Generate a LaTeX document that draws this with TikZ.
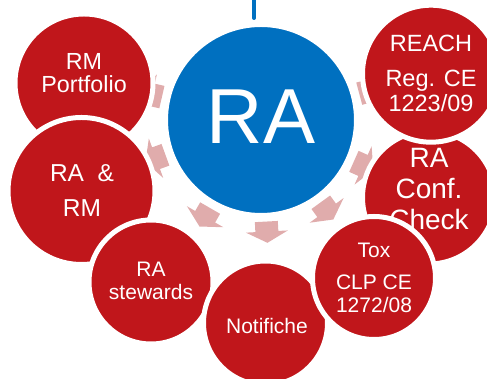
\documentclass[tikz,border=0pt]{standalone}
\usepackage{fontspec}
\setmainfont{Liberation Sans}
\definecolor{raBlue}{RGB}{0,112,192}
\definecolor{raRed}{RGB}{192,22,27}
\definecolor{arrowPink}{RGB}{224,172,172}
\tikzstyle{outerCircle}=[shape = circle, fill = raRed, draw = white, line width = 5pt, inner sep = 0pt]
\tikzstyle{centerCircle}=[shape = circle, fill = raBlue, draw = white, line width = 5pt, inner sep = 0pt]
\tikzstyle{circleText}=[text = white, align = center, inner sep = 0pt]
\tikzstyle{spokeArrow}=[fill = arrowPink, draw = none]
\newcommand{\spokeArrow}[1]{\fill[spokeArrow, shift = {(ra.center)}, rotate = #1] (101.7,-11.5) -- (111.7,-11.5) -- (111.7,-21) -- (123,0) -- (111.7,21) -- (111.7,11.5) -- (101.7,11.5) -- cycle;}

\begin{document}
\begin{tikzpicture}[x = 1pt, y = 1pt]
\useasboundingbox (0,0) rectangle (487,379);
\tikzstyle{feedLine}=[draw = raBlue, line width = 4pt, line cap = round]
\coordinate (feedTop) at (254,390);
\coordinate (feedEnd) at (254,361);
\draw[feedLine] (feedTop) -- (feedEnd);
\node[centerCircle, minimum size = 191pt] (ra) at (261,259) {};
\node[circleText, font = \fontsize{78}{80}\selectfont] (raText) at ([yshift = 3pt]ra.center) {RA};
% arrows under the outer circles
\spokeArrow{167}
\spokeArrow{200}
\spokeArrow{240}
\spokeArrow{273}
\spokeArrow{306}
\spokeArrow{336}
\spokeArrow{15}
% outer circles
\node[outerCircle, minimum size = 133pt] (conf) at (429,181.5) {};
\node[circleText, font = \fontsize{28}{31}\selectfont] (confText) at ([yshift = 8.5pt]conf.center) {RA\\Conf.\\Check};
\node[outerCircle, minimum size = 137pt] (reach) at (431,305.3) {};
\node[circleText, font = \fontsize{23.5}{25}\selectfont] (reachText) at (reach.center) {REACH\\[10pt]Reg. CE\\1223/09};
\node[outerCircle, minimum size = 138pt] (portfolio) at (84,296) {};
\node[circleText, font = \fontsize{23.3}{23}\selectfont] (portfolioText) at ([yshift = 10pt]portfolio.center) {RM\\Portfolio};
\node[outerCircle, minimum size = 147pt] (raRm) at (81.5,188) {};
\node[circleText, font = \fontsize{24.5}{24.5}\selectfont] (raRmText) at ([xshift = 0.5pt]raRm.center) {RA~~\&\\[10.5pt]RM};
\node[outerCircle, minimum size = 124pt] (stewards) at (151,97) {};
\node[circleText, font = \fontsize{21}{23}\selectfont] (stewardsText) at ([yshift = 1pt]stewards.center) {RA\\stewards};
\node[outerCircle, minimum size = 124pt] (notifiche) at (265.5,56) {};
\node[circleText, font = \fontsize{21}{23}\selectfont] (notificheText) at ([xshift = 1.5pt, yshift = -2.5pt]notifiche.center) {Notifiche};
\node[outerCircle, minimum size = 123pt] (tox) at (374,101) {};
\node[circleText, font = \fontsize{21}{23}\selectfont] (toxText) at (tox.center) {Tox\\[9pt]CLP CE\\1272/08};
\end{tikzpicture}
\end{document}
